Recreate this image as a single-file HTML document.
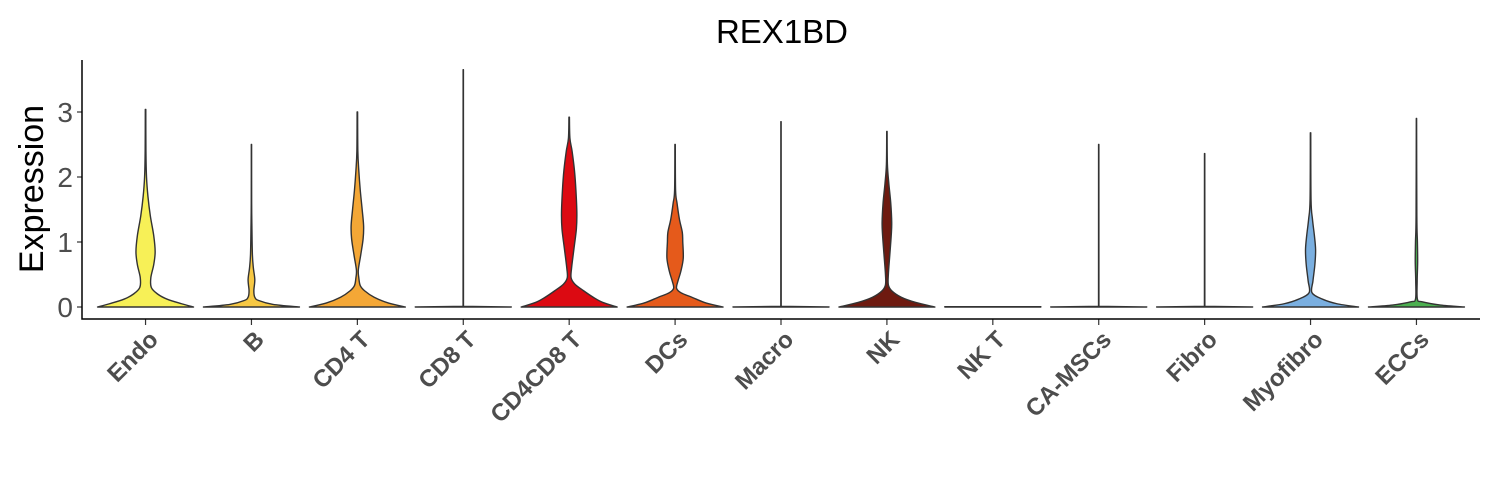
<!DOCTYPE html>
<html><head><meta charset="utf-8"><style>
html,body{margin:0;padding:0;background:#fff;}
svg{display:block;font-family:"Liberation Sans",Arial,sans-serif;}
</style></head><body>
<svg id="chart" width="1500" height="500" viewBox="0 0 1500 500">
<text x="782" y="43" text-anchor="middle" font-size="33" fill="#000">REX1BD</text>
<text transform="translate(43,189) rotate(-90)" text-anchor="middle" font-size="34" fill="#000">Expression</text>
<g id="plot"></g>
</svg>
<script>
const categories = ["Endo","B","CD4 T","CD8 T","CD4CD8 T","DCs","Macro","NK","NK T","CA-MSCs","Fibro","Myofibro","ECCs"];
const colors = ["#F7F057","#F7C843","#F4A736","#E8E8E8","#DC0A12","#E55A1B","#C0392B","#6E1A10","#9E9E9E","#A0C0E0","#B0B0B0","#7AAFE0","#4CB050"];
const profileValues = [
 [0,0.05,0.12,0.2,0.3,0.45,0.65,0.85,1.1,1.4,1.7,2.0,2.4,3.04],
 [0,0.04,0.1,0.15,0.25,0.42,0.6,0.8,1.2,1.6,2.5],
 [0,0.06,0.15,0.25,0.33,0.45,0.57,0.8,1.05,1.25,1.5,1.8,2.1,2.4,3.0],
 [0,0.01,3.65],
 [0,0.07,0.15,0.25,0.35,0.45,0.6,0.9,1.2,1.45,1.8,2.1,2.4,2.6,2.92],
 [0,0.06,0.15,0.22,0.29,0.4,0.55,0.75,1.0,1.15,1.35,1.6,1.8,2.5],
 [0,0.01,2.85],
 [0,0.07,0.15,0.25,0.34,0.5,0.8,1.1,1.3,1.6,1.9,2.2,2.7],
 [0,0.005],
 [0,0.01,2.5],
 [0,0.01,2.36],
 [0,0.05,0.12,0.22,0.4,0.65,0.88,1.1,1.35,1.65,2.68],
 [0,0.03,0.08,0.12,0.4,0.7,1.0,1.4,2.9]
];
const profileWidths = [
 [1,0.75,0.45,0.25,0.12,0.11,0.17,0.2,0.17,0.1,0.05,0.02,0.008,0.005],
 [1,0.45,0.15,0.07,0.05,0.07,0.04,0.02,0.01,0.004,0.003],
 [1,0.65,0.35,0.15,0.06,0.03,0.02,0.07,0.12,0.13,0.1,0.06,0.03,0.01,0.005],
 [1,0.004,0.003],
 [1,0.7,0.5,0.3,0.12,0.04,0.05,0.1,0.15,0.16,0.14,0.11,0.06,0.015,0.005],
 [1,0.65,0.35,0.12,0.03,0.06,0.12,0.17,0.16,0.15,0.09,0.04,0.01,0.004],
 [1,0.004,0.003],
 [1,0.6,0.3,0.1,0.03,0.03,0.06,0.09,0.1,0.08,0.04,0.01,0.004],
 [1,1],
 [1,0.004,0.003],
 [1,0.004,0.003],
 [1,0.55,0.25,0.03,0.05,0.09,0.105,0.08,0.04,0.01,0.004],
 [1,0.5,0.12,0.02,0.015,0.025,0.02,0.008,0.003]
];
const yTicks = [0,1,2,3];

const NS="http://www.w3.org/2000/svg";
const plot=document.getElementById('plot');
const X0=82,X1=1480,Y0=307,UNIT=65,HALF=48;
const step=(X1-X0)/(categories.length-1+1.2);
function xScale(i){return X0+(0.6+i)*step;}
function yScale(v){return Y0-v*UNIT;}
function mk(tag,attrs){const e=document.createElementNS(NS,tag);for(const k in attrs)e.setAttribute(k,attrs[k]);return e;}

function curve(pts,first){
 let d=first?("M"+pts[0][0].toFixed(2)+","+pts[0][1].toFixed(2)):(" L"+pts[0][0].toFixed(2)+","+pts[0][1].toFixed(2));
 if(pts.length<=3){
  for(let i=1;i<pts.length;i++)d+=" L"+pts[i][0].toFixed(2)+","+pts[i][1].toFixed(2);
  return d;
 }
 for(let i=0;i<pts.length-1;i++){
  const p0=pts[Math.max(0,i-1)],p1=pts[i],p2=pts[i+1],p3=pts[Math.min(pts.length-1,i+2)];
  const c1=[p1[0]+(p2[0]-p0[0])/6,Math.min(Y0,p1[1]+(p2[1]-p0[1])/6)];
  const c2=[p2[0]-(p3[0]-p1[0])/6,Math.min(Y0,p2[1]-(p3[1]-p1[1])/6)];
  d+="C"+c1[0].toFixed(2)+","+c1[1].toFixed(2)+" "+c2[0].toFixed(2)+","+c2[1].toFixed(2)+" "+p2[0].toFixed(2)+","+p2[1].toFixed(2);
 }
 return d;
}

categories.forEach((c,i)=>{
 const cx=xScale(i);
 const vals=profileValues[i],ws=profileWidths[i];
 const right=vals.map((v,k)=>[cx+ws[k]*HALF,yScale(v)]);
 const left=vals.map((v,k)=>[cx-ws[k]*HALF,yScale(v)]).reverse();
 const d=curve(right,true)+curve(left,false)+"Z";
 const p=mk('path',{d:d,fill:colors[i],stroke:"#333",'stroke-width':1.4,'stroke-linejoin':'round'});
 
 
 plot.appendChild(p);
 const t=mk('line',{x1:cx,x2:cx,y1:319,y2:325,stroke:"#333",'stroke-width':1.2});
 
 
 plot.appendChild(t);
 const lab=mk('text',{x:0,y:0,'text-anchor':'end','font-size':24,'font-weight':'bold',fill:'#4d4d4d',transform:`translate(${cx+14},${341}) rotate(-45)`});
 lab.textContent=c;
 
 
 plot.appendChild(lab);
});
yTicks.forEach(v=>{
 const y=yScale(v);
 const t=mk('line',{x1:77,x2:82,y1:y,y2:y,stroke:"#333",'stroke-width':1.2});
 
 
 plot.appendChild(t);
 const l=mk('text',{x:73,y:y+10,'text-anchor':'end','font-size':28,fill:'#4d4d4d'});
 l.textContent=v;
 
 
 plot.appendChild(l);
});
const ax=mk('path',{d:`M${X0},60 L${X0},319 L${X1},319`,fill:'none',stroke:'#000','stroke-width':1.5});


plot.appendChild(ax);
</script>
</body></html>
